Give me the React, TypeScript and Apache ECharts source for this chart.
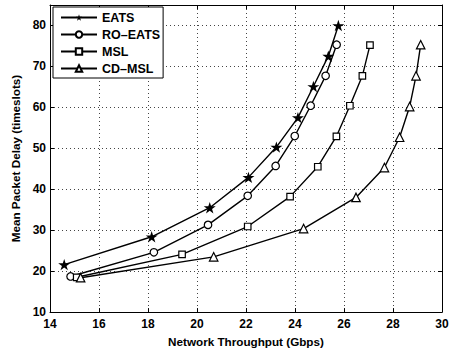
import React, { useEffect, useRef } from "react";
import * as echarts from "echarts";

const seriesNames = ["EATS", "RO–EATS", "MSL", "CD–MSL"];

const eatsX = [14.58, 18.15, 20.52, 22.1, 23.24, 24.12, 24.75, 25.36, 25.77];
const eatsY = [21.6, 28.4, 35.5, 42.9, 50.3, 57.5, 65.1, 72.5, 80.0];

const roEatsX = [14.84, 18.24, 20.45, 22.07, 23.21, 23.99, 24.64, 25.25, 25.7];
const roEatsY = [18.7, 24.6, 31.3, 38.4, 45.7, 53.0, 60.4, 67.7, 75.3];

const mslX = [15.09, 19.39, 22.07, 23.8, 24.93, 25.69, 26.24, 26.75, 27.06];
const mslY = [18.5, 24.1, 30.9, 38.2, 45.5, 52.9, 60.4, 67.7, 75.2];

const cdMslX = [15.25, 20.68, 24.35, 26.49, 27.65, 28.27, 28.68, 28.94, 29.13];
const cdMslY = [18.4, 23.5, 30.4, 38.0, 45.3, 52.7, 60.2, 67.7, 75.3];

const xMin = 14, xMax = 30, xStep = 2;
const yMin = 10, yMax = 85, yStep = 10;

const STAR =
  "path://M0,-10L2.245,-3.09L9.51,-3.09L3.633,1.18L5.878,8.09L0,3.82L-5.878,8.09L-3.633,1.18L-9.51,-3.09L-2.245,-3.09Z";

const FONT = "Liberation Sans";

function zip(xs: number[], ys: number[]) {
  return xs.map((x, i) => [x, ys[i]]);
}

export default function App() {
  const ref = useRef<HTMLDivElement>(null);
  useEffect(() => {
    if (!ref.current) return;
    const chart = echarts.init(ref.current, undefined, { renderer: "svg" });
    const mk = (
      name: string,
      xs: number[],
      ys: number[],
      symbol: string,
      size: number,
      filled: boolean
    ) => ({
      name,
      type: "line",
      data: zip(xs, ys),
      symbol,
      symbolSize: size,
      showAllSymbol: true,
      symbolKeepAspect: true,
      lineStyle: { color: "#000", width: 1.4 },
      itemStyle: {
        color: filled ? "#000" : "#fff",
        borderColor: "#000",
        borderWidth: filled ? 0 : 1.2,
      },
      emphasis: { disabled: true },
      xAxisIndex: 0,
      yAxisIndex: 0,
      z: 3,
    });
    const labelStyle = { color: "#000", fontFamily: FONT, fontWeight: "bold", fontSize: 12 };
    const nameStyle = { ...labelStyle, fontSize: 11.7 };
    chart.setOption({
      animation: false,
      backgroundColor: "#fff",
      textStyle: { fontFamily: FONT },
      grid: { left: 50, right: 12, top: 5, bottom: 39 },
      legend: {
        orient: "vertical",
        left: 53,
        top: 7,
        padding: [3, 3, 2, 7],
        itemGap: 2,
        itemWidth: 36,
        itemHeight: 8,
        backgroundColor: "#fff",
        borderColor: "#000",
        borderWidth: 1,
        borderRadius: 0,
        textStyle: { ...labelStyle, fontSize: 12.5, lineHeight: 15 },
        data: seriesNames,
        z: 10,
      },
      xAxis: [
        {
          type: "value",
          min: xMin,
          max: xMax,
          interval: xStep,
          name: "Network Throughput (Gbps)",
          nameLocation: "middle",
          nameGap: 21,
          nameTextStyle: nameStyle,
          axisLine: { show: true, lineStyle: { color: "#000", width: 1 } },
          axisTick: { show: true, inside: true, length: 4, lineStyle: { color: "#000" } },
          axisLabel: { ...labelStyle, margin: 6 },
          splitLine: { show: true, lineStyle: { color: "#444", type: [1, 3], width: 1 } },
        },
        {
          type: "value",
          position: "top",
          min: xMin,
          max: xMax,
          interval: xStep,
          axisLine: { show: true, lineStyle: { color: "#000", width: 1 } },
          axisTick: { show: true, inside: true, length: 4, lineStyle: { color: "#000" } },
          axisLabel: { show: false },
          splitLine: { show: false },
        },
      ],
      yAxis: [
        {
          type: "value",
          min: yMin,
          max: yMax,
          interval: yStep,
          name: "Mean Packet Delay (timeslots)",
          nameLocation: "middle",
          nameGap: 22,
          nameTextStyle: nameStyle,
          axisLine: { show: true, lineStyle: { color: "#000", width: 1 } },
          axisTick: { show: true, inside: true, length: 4, lineStyle: { color: "#000" } },
          axisLabel: {
            ...labelStyle,
            margin: 4,
            formatter: (v: number) => (v > 80 ? "" : String(v)),
          },
          splitLine: { show: true, lineStyle: { color: "#444", type: [1, 3], width: 1 } },
        },
        {
          type: "value",
          position: "right",
          min: yMin,
          max: yMax,
          interval: yStep,
          axisLine: { show: true, lineStyle: { color: "#000", width: 1 } },
          axisTick: { show: true, inside: true, length: 4, lineStyle: { color: "#000" } },
          axisLabel: { show: false },
          splitLine: { show: false },
        },
      ],
      series: [
        mk(seriesNames[0], eatsX, eatsY, STAR, 12, true),
        mk(seriesNames[1], roEatsX, roEatsY, "circle", 7.5, false),
        mk(seriesNames[2], mslX, mslY, "rect", 6.5, false),
        mk(seriesNames[3], cdMslX, cdMslY, "triangle", 8.5, false),
      ],
    });
    return () => chart.dispose();
  }, []);
  return (
    <div
      ref={ref}
      style={{ position: "absolute", left: 0, top: 0, width: 454, height: 352 }}
    />
  );
}
